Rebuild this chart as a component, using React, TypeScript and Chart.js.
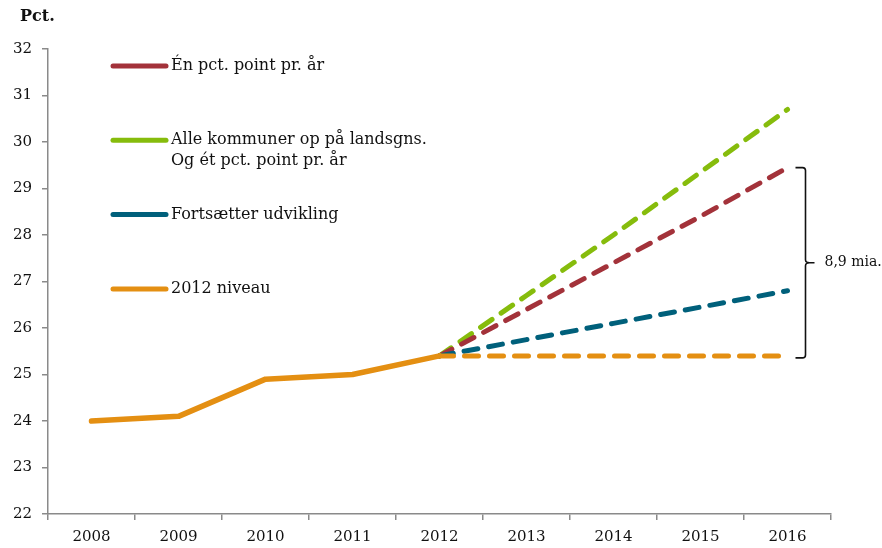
import React, { useEffect, useRef } from 'react';
import { Chart, registerables } from 'chart.js';

Chart.register(...registerables);

const years = ['2008', '2009', '2010', '2011', '2012', '2013', '2014', '2015', '2016'];
const historical = [24.0, 24.1, 24.9, 25.0, 25.4, null, null, null, null];
const onePctPoint = [null, null, null, null, 25.4, 26.4, 27.4, 28.4, 29.45];
const allMunicipalities = [null, null, null, null, 25.4, 26.7, 28.0, 29.35, 30.7];
const continuesTrend = [null, null, null, null, 25.4, 25.75, 26.1, 26.45, 26.8];
const level2012 = [null, null, null, null, 25.4, 25.4, 25.4, 25.4, 25.4];

const legendLabels = [
  ['Én pct. point pr. år'],
  ['Alle kommuner op på landsgns.', 'Og ét pct. point pr. år'],
  ['Fortsætter udvikling'],
  ['2012 niveau'],
];
const bracketLabel = '8,9 mia.';
const yTitle = 'Pct.';

const RED = '#a3323a';
const GREEN = '#86bc0c';
const BLUE = '#00607b';
const ORANGE = '#e48f12';
const FONT = '"DejaVu Serif", serif';

export default function App() {
  const ref = useRef<HTMLCanvasElement>(null);

  useEffect(() => {
    const dashed = (data: (number | null)[], color: string, order: number) => ({
      data,
      borderColor: color,
      backgroundColor: color,
      borderWidth: 5,
      borderDash: [14, 11],
      borderCapStyle: 'round' as const,
      borderJoinStyle: 'round' as const,
      pointRadius: 0,
      fill: false,
      tension: 0,
      spanGaps: false,
      order,
    });

    const overlay = {
      id: 'overlay',
      afterDraw(chart: any) {
        const { ctx, chartArea, scales } = chart;
        const xs = scales.x;
        const ys = scales.y;
        ctx.save();
        // y title
        ctx.fillStyle = '#111';
        ctx.font = `bold 16px ${FONT}`;
        ctx.textAlign = 'left';
        ctx.textBaseline = 'middle';
        ctx.fillText(yTitle, 20, 17);

        // legend
        const colors = [RED, GREEN, BLUE, ORANGE];
        const lx1 = chartArea.left + 65;
        const lx2 = chartArea.left + 118;
        const ly0 = chartArea.top + 17;
        const lstep = 74.3;
        ctx.font = `16px ${FONT}`;
        legendLabels.forEach((lines, i) => {
          const y = ly0 + i * lstep;
          ctx.strokeStyle = colors[i];
          ctx.lineWidth = 5;
          ctx.lineCap = 'round';
          ctx.beginPath();
          ctx.moveTo(lx1, y);
          ctx.lineTo(lx2, y);
          ctx.stroke();
          ctx.fillStyle = '#111';
          lines.forEach((t, j) => {
            ctx.fillText(t, lx2 + 5, y + j * 21);
          });
        });

        // bracket
        const last = years.length - 1;
        const bx = xs.getPixelForValue(last) + 18;
        const yTop = ys.getPixelForValue(onePctPoint[last] as number);
        const yBot = ys.getPixelForValue(level2012[last] as number) + 2;
        const yMid = (yTop + yBot) / 2;
        ctx.strokeStyle = '#111';
        ctx.lineWidth = 1.6;
        ctx.lineCap = 'butt';
        ctx.beginPath();
        ctx.moveTo(bx - 10, yTop);
        ctx.lineTo(bx - 3, yTop);
        ctx.quadraticCurveTo(bx, yTop, bx, yTop + 3);
        ctx.lineTo(bx, yMid - 3);
        ctx.quadraticCurveTo(bx, yMid, bx + 4, yMid);
        ctx.lineTo(bx + 9, yMid);
        ctx.moveTo(bx + 4, yMid);
        ctx.quadraticCurveTo(bx, yMid, bx, yMid + 3);
        ctx.lineTo(bx, yBot - 3);
        ctx.quadraticCurveTo(bx, yBot, bx - 3, yBot);
        ctx.lineTo(bx - 10, yBot);
        ctx.stroke();
        ctx.fillStyle = '#111';
        ctx.font = `14px ${FONT}`;
        ctx.textAlign = 'left';
        ctx.textBaseline = 'middle';
        ctx.fillText(bracketLabel, bx + 19, yMid);
        ctx.restore();
      },
    };

    const chart = new Chart(ref.current as HTMLCanvasElement, {
      type: 'line',
      data: {
        labels: years,
        datasets: [
          {
            data: historical,
            borderColor: ORANGE,
            backgroundColor: ORANGE,
            borderWidth: 5.5,
            borderCapStyle: 'round',
            borderJoinStyle: 'round',
            pointRadius: 0,
            fill: false,
            tension: 0,
            order: 0,
          } as any,
          dashed(level2012, ORANGE, 1),
          dashed(continuesTrend, BLUE, 2),
          dashed(onePctPoint, RED, 3),
          dashed(allMunicipalities, GREEN, 4),
        ],
      },
      options: {
        responsive: false,
        animation: false,
        layout: { padding: { top: 49, right: 51, left: 0, bottom: 0 } },
        plugins: { legend: { display: false }, tooltip: { enabled: false } },
        scales: {
          x: {
            type: 'category',
            offset: true,
            grid: { offset: true, drawOnChartArea: false, drawTicks: true, tickLength: 6, color: '#8a8a8a', lineWidth: 1.5 },
            border: { display: true, color: '#8a8a8a', width: 1.5 },
            ticks: { color: '#111', font: { family: FONT, size: 15 }, padding: 8, maxRotation: 0, autoSkip: false },
            afterFit: (s: any) => { s.height = 34; },
          },
          y: {
            min: 22,
            max: 32,
            grid: { drawOnChartArea: false, drawTicks: true, tickLength: 6, color: '#8a8a8a', lineWidth: 1.5 },
            border: { display: true, color: '#8a8a8a', width: 1.5 },
            ticks: { stepSize: 1, color: '#111', font: { family: FONT, size: 15 }, padding: 10 },
            afterFit: (s: any) => { s.width = 48; },
          },
        },
      },
      plugins: [overlay],
    });
    return () => chart.destroy();
  }, []);

  return (
    <div style={{ position: 'fixed', left: 0, top: 0, width: 882, height: 548, background: '#fff' }}>
      <canvas ref={ref} width={882} height={548} style={{ display: 'block', width: 882, height: 548 }} />
    </div>
  );
}
